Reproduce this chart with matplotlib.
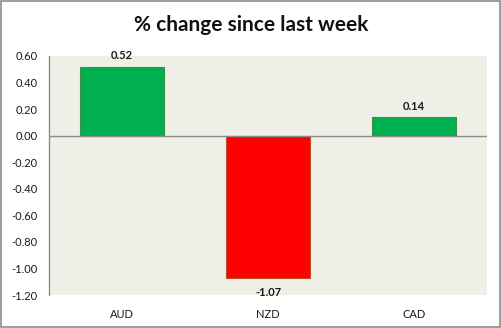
import matplotlib
matplotlib.use("Agg")
import matplotlib.pyplot as plt
from matplotlib.patches import Rectangle

currencies = ["AUD", "NZD", "CAD"]
pct_change = [0.52, -1.07, 0.14]
y_ticks = [0.60, 0.40, 0.20, 0.00, -0.20, -0.40, -0.60, -0.80, -1.00, -1.20]

plt.rcParams['font.family'] = ['Lato', 'DejaVu Sans']

fig = plt.figure(figsize=(5.02, 3.28), dpi=100)
ax = fig.add_axes([49 / 502, 1 - 295 / 328, 438 / 502, 239 / 328])

green, red = '#00B050', '#FF0000'
for i, v in enumerate(pct_change):
    face = green if v >= 0 else red
    edge = '#3E8E41' if v >= 0 else '#B5542C'
    ax.bar(i, v, width=0.57, color=face, edgecolor=edge, linewidth=0.8, zorder=3)
    off = 4 if v >= 0 else -7
    ax.annotate(f"{v:.2f}", (i, v), xytext=(0, off), textcoords='offset points',
                ha='center', va='bottom' if v >= 0 else 'top',
                fontsize=8, fontweight='bold', color='#1a1a1a')

ax.set_xlim(-0.5, 2.5)
ax.set_ylim(-1.2, 0.6)
ax.set_facecolor('#EEF0E8')
ax.axhline(0, color='#8C8C8C', linewidth=1, zorder=4)

for side in ['top', 'right', 'bottom']:
    ax.spines[side].set_visible(False)
ax.spines['left'].set_color('#8C8C8C')
ax.spines['left'].set_linewidth(1)

ax.set_yticks(y_ticks)
ax.set_yticklabels([f"{t:.2f}" for t in y_ticks])
ax.set_xticks(range(len(currencies)))
ax.set_xticklabels(currencies)
ax.tick_params(axis='both', length=0, labelsize=8, colors='#1a1a1a')
ax.tick_params(axis='y', pad=8)
ax.tick_params(axis='x', pad=10)

fig.text(0.5, 1 - 25 / 328, "% change since last week", ha='center', va='center',
         fontsize=15, fontweight='bold', color='#111111')

# outer chart frame
fig.patches.append(Rectangle((0.002, 0.003), 0.995, 0.994, transform=fig.transFigure,
                             fill=False, edgecolor='#8C8C8C', linewidth=1.2))

fig.savefig("out.png", dpi=100, facecolor='white')
plt.close(fig)
